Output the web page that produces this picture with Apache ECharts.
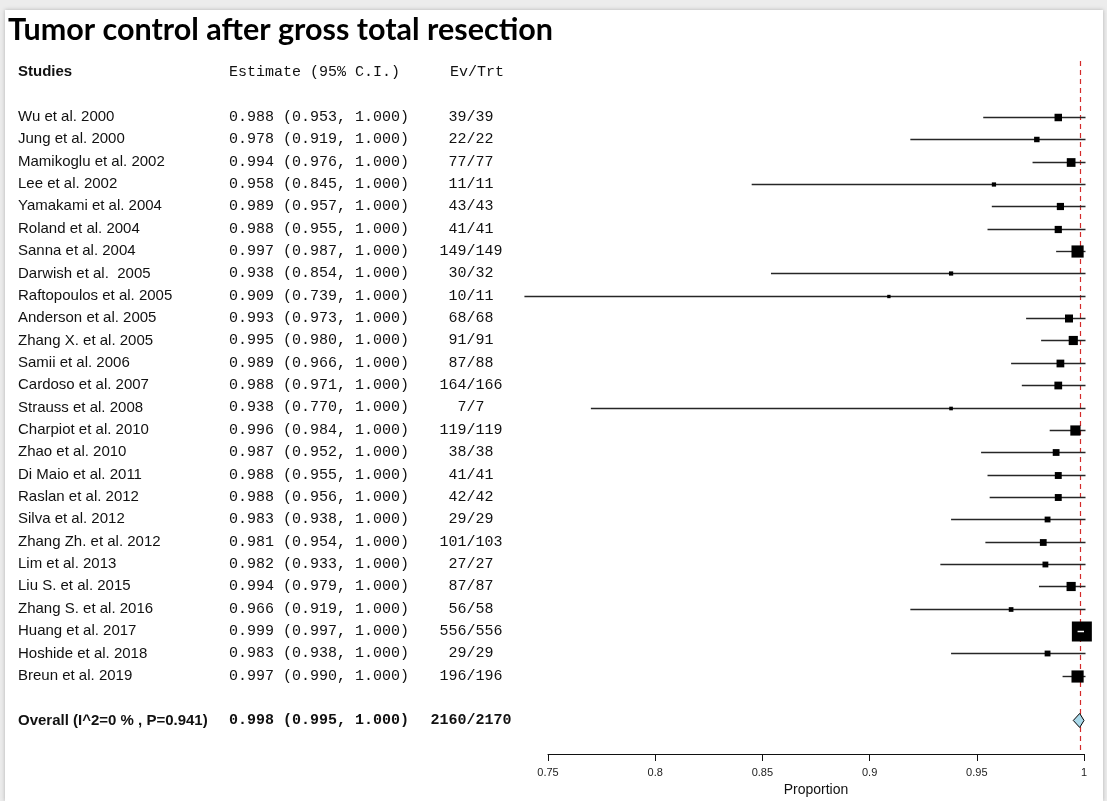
<!DOCTYPE html>
<html>
<head>
<meta charset="utf-8">
<script src="https://cdn.jsdelivr.net/npm/echarts@6/dist/echarts.min.js"></script>
<style>
  html, body { margin: 0; padding: 0; background: #ececec; }
  #panel { position: absolute; left: 5px; top: 10px; width: 1098px; height: 791px; background: #fff; box-shadow: 0 0 4px rgba(0,0,0,0.25); }
  #chart { position: absolute; left: 0; top: 0; width: 1107px; height: 801px; }
</style>
</head>
<body>
<div id="panel"></div>
<div id="chart"></div>
<script>
// ---- data ----
const studies = [
  'Wu et al. 2000', 'Jung et al. 2000', 'Mamikoglu et al. 2002', 'Lee et al. 2002',
  'Yamakami et al. 2004', 'Roland et al. 2004', 'Sanna et al. 2004', 'Darwish et al.  2005',
  'Raftopoulos et al. 2005', 'Anderson et al. 2005', 'Zhang X. et al. 2005', 'Samii et al. 2006',
  'Cardoso et al. 2007', 'Strauss et al. 2008', 'Charpiot et al. 2010', 'Zhao et al. 2010',
  'Di Maio et al. 2011', 'Raslan et al. 2012', 'Silva et al. 2012', 'Zhang Zh. et al. 2012',
  'Lim et al. 2013', 'Liu S. et al. 2015', 'Zhang S. et al. 2016', 'Huang et al. 2017',
  'Hoshide et al. 2018', 'Breun et al. 2019'
];
const estimates = [0.988, 0.978, 0.994, 0.958, 0.989, 0.988, 0.997, 0.938, 0.909, 0.993, 0.995, 0.989,
  0.988, 0.938, 0.996, 0.987, 0.988, 0.988, 0.983, 0.981, 0.982, 0.994, 0.966, 0.999, 0.983, 0.997];
const lower = [0.953, 0.919, 0.976, 0.845, 0.957, 0.955, 0.987, 0.854, 0.739, 0.973, 0.980, 0.966,
  0.971, 0.770, 0.984, 0.952, 0.955, 0.956, 0.938, 0.954, 0.933, 0.979, 0.919, 0.997, 0.938, 0.990];
const upper = [1.000, 1.000, 1.000, 1.000, 1.000, 1.000, 1.000, 1.000, 1.000, 1.000, 1.000, 1.000,
  1.000, 1.000, 1.000, 1.000, 1.000, 1.000, 1.000, 1.000, 1.000, 1.000, 1.000, 1.000, 1.000, 1.000];
const events = [39, 22, 77, 11, 43, 41, 149, 30, 10, 68, 91, 87, 164, 7, 119, 38, 41, 42, 29, 101, 27, 87, 56, 556, 29, 196];
const totals = [39, 22, 77, 11, 43, 41, 149, 32, 11, 68, 91, 88, 166, 7, 119, 38, 41, 42, 29, 103, 27, 87, 58, 556, 29, 196];
// relative study weights
const weights = [14, 7.5, 19, 4.5, 13, 13, 37, 4.5, 2.8, 16, 21, 15, 15, 3.3, 26, 11.5, 12, 12, 8.5, 11.5, 8.5, 21, 5.5, 100, 8.5, 37];

const overallLabel = 'Overall (I^2=0 % , P=0.941)';
const overallEst = 0.998, overallLo = 0.995, overallHi = 1.000;
const overallEvents = 2160, overallTotal = 2170;

const headerLabels = ['Studies', 'Estimate (95% C.I.)', 'Ev/Trt'];
const xTicks = { min: 0.75, max: 1, interval: 0.05 };
const titleText = 'Tumor control after gross total resection';

// ---- rows ----
const fmt = v => v.toFixed(3);
const firstStudyRow = 2;
const overallRow = firstStudyRow + studies.length + 1;
const nRows = overallRow + 2;
const rowKeys = [], colName = [], colEst = [], colCount = [], boldRow = [];
for (let r = 0; r < nRows; r++) { rowKeys.push('r' + r); colName.push(''); colEst.push(''); colCount.push(''); boldRow.push(false); }
colName[0] = headerLabels[0]; colEst[0] = headerLabels[1]; colCount[0] = headerLabels[2];
boldRow[0] = 'header';
studies.forEach((s, i) => {
  const r = firstStudyRow + i;
  colName[r] = s;
  colEst[r] = fmt(estimates[i]) + ' (' + fmt(lower[i]) + ', ' + fmt(upper[i]) + ')';
  colCount[r] = events[i] + '/' + totals[i];
});
colName[overallRow] = overallLabel;
colEst[overallRow] = fmt(overallEst) + ' (' + fmt(overallLo) + ', ' + fmt(overallHi) + ')';
colCount[overallRow] = overallEvents + '/' + overallTotal;
boldRow[overallRow] = 'overall';

const studyData = studies.map((s, i) => [estimates[i], firstStudyRow + i, lower[i], upper[i], weights[i]]);
const overallData = [[overallEst, overallRow, overallLo, overallHi]];
const refLineData = [[overallEst, 0]];

// ---- layout ----
const W = 1107, H = 801;
const gridLeft = 548, gridRight = 1084, gridTop = 61, gridBottom = 754;
const maxW = Math.max.apply(null, weights);
const maxSide = 20;

const sansRich = {
  n: { fontFamily: 'Liberation Sans, Arial, sans-serif', fontSize: 15, color: '#111' },
  b: { fontFamily: 'Liberation Sans, Arial, sans-serif', fontSize: 15, fontWeight: 'bold', color: '#111' }
};
const monoRich = {
  n: { fontFamily: 'Liberation Mono, monospace', fontSize: 15, color: '#111' },
  b: { fontFamily: 'Liberation Mono, monospace', fontSize: 15, fontWeight: 'bold', color: '#111' },
  h: { fontFamily: 'Liberation Mono, monospace', fontSize: 15, color: '#111' }
};
const countRich = {
  n: monoRich.n, b: monoRich.b,
  h: { fontFamily: 'Liberation Mono, monospace', fontSize: 15, color: '#111', padding: [0, 0, 0, 12] }
};

function makeYAxis(labels, align, anchorX, rich, headerStyle) {
  return {
    type: 'category', data: rowKeys, inverse: true, position: 'left',
    axisLine: { show: false }, axisTick: { show: false }, splitLine: { show: false },
    axisLabel: {
      show: true, interval: 0, hideOverlap: false, align: align,
      margin: gridLeft - anchorX,
      formatter: (v, idx) => {
        const t = labels[idx];
        if (!t) return '';
        const st = boldRow[idx] === 'overall' ? 'b' : (boldRow[idx] === 'header' ? headerStyle : 'n');
        return '{' + st + '|' + t + '}';
      },
      rich: rich
    }
  };
}

function renderStudy(params, api) {
  const row = api.value(1);
  const p = api.coord([api.value(0), row]);
  const l = api.coord([api.value(2), row]);
  const h = api.coord([api.value(3), row]);
  const s = maxSide * Math.sqrt(api.value(4) / maxW);
  const y = Math.round(p[1]) + 0.5;
  const children = [
    { type: 'line', shape: { x1: l[0], y1: y, x2: h[0] + 1.5, y2: y }, style: { stroke: '#262626', lineWidth: 1.4 } },
    { type: 'rect', shape: { x: p[0] - s / 2, y: y - s / 2, width: s, height: s }, style: { fill: '#000' } }
  ];
  if (l[0] >= p[0] - s / 2 && h[0] <= p[0] + s / 2) {
    children.push({ type: 'line', shape: { x1: l[0], y1: y, x2: h[0], y2: y }, style: { stroke: '#fff', lineWidth: 1.5 } });
  }
  return { type: 'group', children: children };
}

function renderDiamond(params, api) {
  const row = api.value(1);
  const p = api.coord([api.value(0), row]);
  const l = api.coord([api.value(2), row]);
  const h = api.coord([api.value(3), row]);
  const hh = 7;
  return {
    type: 'polygon',
    shape: { points: [[l[0], p[1]], [p[0], p[1] - hh], [h[0], p[1]], [p[0], p[1] + hh]] },
    style: { fill: '#a9d9ea', stroke: '#000', lineWidth: 1 }
  };
}

function renderRefLine(params, api) {
  const p = api.coord([api.value(0), api.value(1)]);
  const cs = params.coordSys;
  const x = Math.round(p[0]) + 0.5;
  return {
    type: 'line',
    shape: { x1: x, y1: cs.y, x2: x, y2: cs.y + cs.height },
    style: { stroke: '#d42a2a', lineWidth: 1.2, lineDash: [5, 4] }
  };
}

const chart = echarts.init(document.getElementById('chart'), null, { renderer: 'canvas', width: W, height: H });
chart.setOption({
  animation: false,
  backgroundColor: 'transparent',
  title: {
    text: titleText, left: 8, top: 15, padding: 0,
    textStyle: { fontFamily: 'Lato, Open Sans, sans-serif', fontWeight: 'bold', fontSize: 30.5, color: '#000' }
  },
  grid: { left: gridLeft, right: W - gridRight, top: gridTop, bottom: H - gridBottom, containLabel: false, outerBoundsMode: 'none' },
  xAxis: {
    type: 'value', min: xTicks.min, max: xTicks.max, interval: xTicks.interval,
    name: 'Proportion', nameLocation: 'middle', nameGap: 29,
    nameTextStyle: { fontFamily: 'Liberation Sans, Arial, sans-serif', fontSize: 14, color: '#111' },
    axisLine: { show: true, onZero: false, lineStyle: { color: '#111', width: 1 } },
    axisTick: { show: true, inside: false, length: 7, lineStyle: { color: '#111', width: 1 } },
    axisLabel: { margin: 13, fontFamily: 'Liberation Sans, Arial, sans-serif', fontSize: 11, color: '#222' },
    splitLine: { show: false }
  },
  yAxis: [
    makeYAxis(colName, 'left', 18, sansRich, 'b'),
    makeYAxis(colEst, 'left', 229, monoRich, 'h'),
    makeYAxis(colCount, 'center', 471, countRich, 'h')
  ],
  series: [
    {
      type: 'custom', renderItem: renderRefLine, data: refLineData, yAxisIndex: 0,
      encode: { x: 0, y: 1 }, silent: true, z: 1
    },
    {
      type: 'custom', renderItem: renderStudy, data: studyData, yAxisIndex: 0,
      encode: { x: [0, 2, 3], y: 1 }, silent: true, z: 2
    },
    {
      type: 'custom', renderItem: renderDiamond, data: overallData, yAxisIndex: 0,
      encode: { x: [0, 2, 3], y: 1 }, silent: true, z: 3
    }
  ]
});
</script>
</body>
</html>
